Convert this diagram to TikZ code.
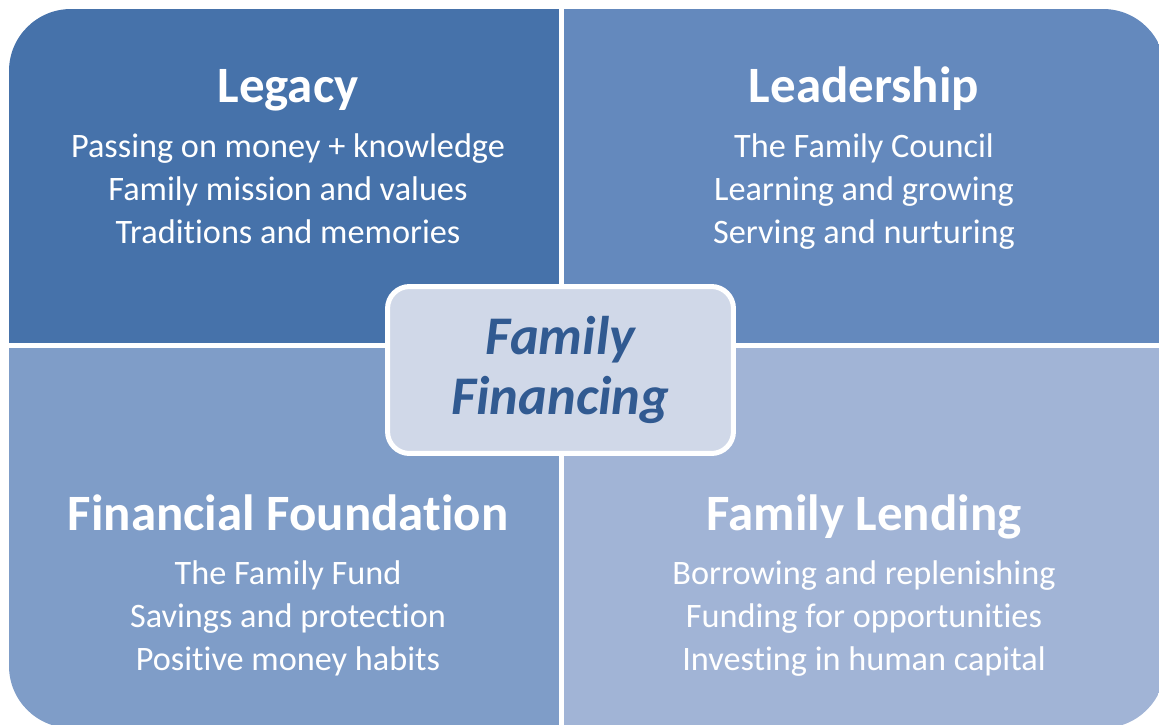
\documentclass[tikz,border=0pt]{standalone}
\usepackage{fontspec}
\setmainfont{Carlito}[Ligatures=NoCommon]
\definecolor{ff_legacy}{RGB}{70,114,170}
\definecolor{ff_leader}{RGB}{100,137,189}
\definecolor{ff_found}{RGB}{127,157,200}
\definecolor{ff_lend}{RGB}{161,180,214}
\definecolor{ff_hub}{RGB}{208,216,232}
\definecolor{ff_text}{RGB}{49,90,145}
\tikzstyle{quad}=[rectangle,anchor=north west,inner sep=0pt,outer sep=0pt]
\tikzstyle{heading}=[text=white,anchor=base,font=\fontsize{29}{34}\selectfont\bfseries]
\tikzstyle{item}=[text=white,anchor=base,font=\fontsize{19.5}{24}\selectfont]
\tikzstyle{hub}=[rectangle,rounded corners=0.44cm,fill=ff_hub,draw=white,
  line width=0.1cm,minimum width=6.92cm,minimum height=3.34cm,align=center,
  text=ff_text,font=\fontsize{31}{34}\selectfont\bfseries\itshape]

\begin{document}
\begin{tikzpicture}[x=0.02cm,y=-0.02cm]
    \useasboundingbox (0,0) rectangle (1159,724);
    \begin{scope}
      \clip[rounded corners=1.24cm] (9,9) rectangle (1165,728);
      \node [style=quad,fill=ff_legacy,minimum width=11cm,minimum height=6.68cm] (legacy) at (9,9) {};
      \node [style=quad,fill=ff_leader,minimum width=12.02cm,minimum height=6.68cm] (leader) at (564,9) {};
      \node [style=quad,fill=ff_found,minimum width=11cm,minimum height=7.6cm] (found) at (9,348) {};
      \node [style=quad,fill=ff_lend,minimum width=12.02cm,minimum height=7.6cm] (lend) at (564,348) {};
    \end{scope}
    \node [style=heading] (legacyhead) at (288,102) {Legacy};
    \node [style=heading] (leaderhead) at (864,102) {Leadership};
    \node [style=heading] (foundhead) at (288,530) {Financial Foundation};
    \node [style=heading] (lendhead) at (864,530) {Family Lending};
    \foreach \t [count=\i] in {Passing on money + knowledge,Family mission and values,Traditions and memories}
      \node [style=item] (legacy\i) at (288,115+42.8*\i) {\t};
    \foreach \t [count=\i] in {The Family Council,Learning and growing,Serving and nurturing}
      \node [style=item] (leader\i) at (864,115+42.8*\i) {\t};
    \foreach \t [count=\i] in {The Family Fund,Savings and protection,Positive money habits}
      \node [style=item] (found\i) at (288,542+42.8*\i) {\t};
    \foreach \t [count=\i] in {Borrowing and replenishing,Funding for opportunities,Investing in human capital}
      \node [style=item] (lend\i) at (864,542+42.8*\i) {\t};
    \node [style=hub] (hub) at (560.5,370) {Family\\Financing};
  \end{tikzpicture}
\end{document}
